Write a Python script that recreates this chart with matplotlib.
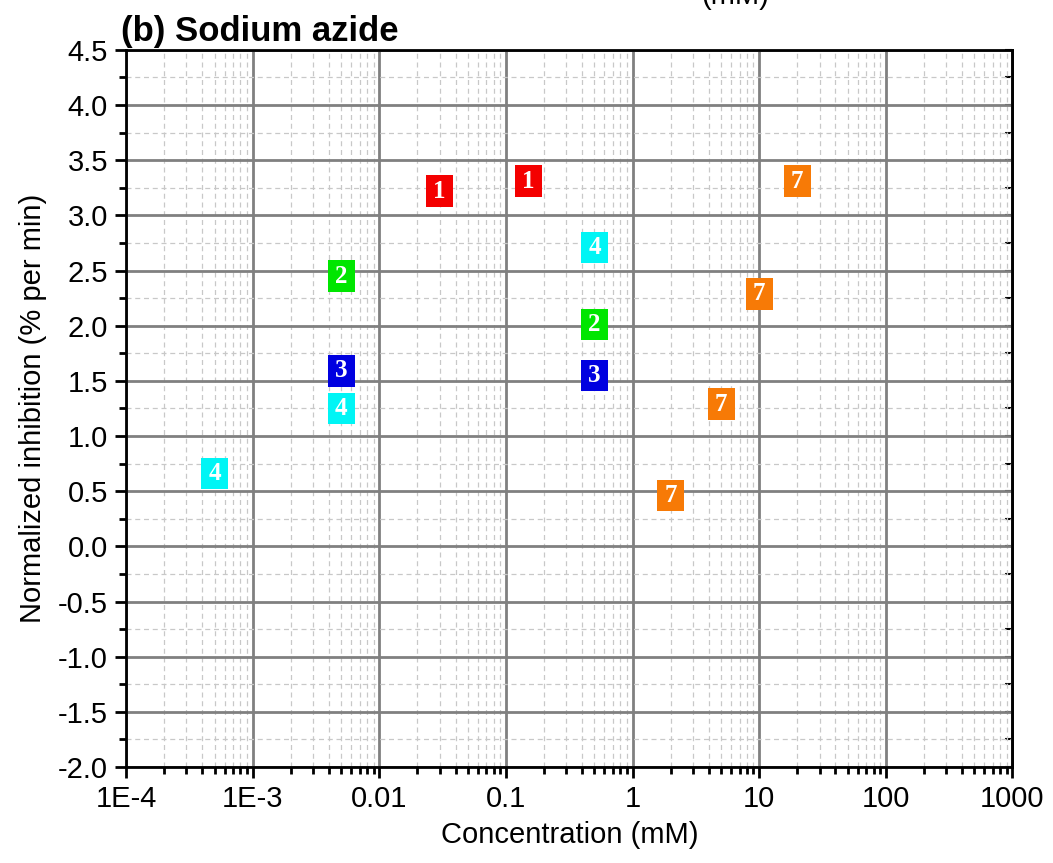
import numpy as np
import matplotlib
matplotlib.use("Agg")
from matplotlib import pyplot as plt
from matplotlib import ticker as ticker

# concentration (mM), normalized inhibition (% per min), point label
conc_1 = [0.03, 0.15]
inhib_1 = [3.22, 3.31]
conc_2 = [0.005, 0.5]
inhib_2 = [2.45, 2.01]
conc_3 = [0.005, 0.5]
inhib_3 = [1.59, 1.55]
conc_4 = [0.0005, 0.005, 0.5]
inhib_4 = [0.66, 1.25, 2.71]
conc_7 = [2, 5, 10, 20]
inhib_7 = [0.46, 1.29, 2.29, 3.31]

groups = [
    ("1", conc_1, inhib_1, "#f40000"),
    ("2", conc_2, inhib_2, "#00e600"),
    ("3", conc_3, inhib_3, "#0000e0"),
    ("4", conc_4, inhib_4, "#00f5f5"),
    ("7", conc_7, inhib_7, "#f77a06"),
]

x_ticks = [1e-4, 1e-3, 0.01, 0.1, 1, 10, 100, 1000]
x_ticklabels = ["1E-4", "1E-3", "0.01", "0.1", "1", "10", "100", "1000"]
y_ticks = np.arange(-2.0, 4.51, 0.5)

plt.rcParams['font.family'] = ['Liberation Sans', 'DejaVu Sans']
plt.rcParams['axes.linewidth'] = 2.0
plt.rcParams['axes.unicode_minus'] = False

fig = plt.figure(figsize=(10.53, 8.63), dpi=100)
ax = fig.add_axes([0.1197, 0.1112, 0.8418, 0.8310])

ax.set_xscale('log')
ax.set_xlim(1e-4, 1000)
ax.set_ylim(-2.0, 4.5)

ax.set_xticks(x_ticks)
ax.set_xticklabels(x_ticklabels)
ax.xaxis.set_minor_locator(ticker.LogLocator(base=10, subs=np.arange(2, 10), numticks=20))
ax.xaxis.set_minor_formatter(ticker.NullFormatter())
ax.set_yticks(y_ticks)
ax.yaxis.set_major_formatter(ticker.StrMethodFormatter('{x:.1f}'))
ax.yaxis.set_minor_locator(ticker.MultipleLocator(0.25))

ax.grid(which='minor', color='#c8c8c8', linestyle=(0, (4, 3)), linewidth=0.9)
ax.grid(which='major', color='#808080', linestyle='-', linewidth=2.0)
ax.set_axisbelow(True)

ax.tick_params(which='major', direction='out', length=8, width=2, labelsize=21, pad=5)
ax.tick_params(which='minor', direction='out', length=5, width=2)

right = ax.secondary_yaxis('right')
right.set_yticks(y_ticks)
right.yaxis.set_minor_locator(ticker.MultipleLocator(0.25))
right.tick_params(which='both', direction='in', length=5, width=1.5, labelright=False)
right.spines['right'].set_linewidth(2.0)

# slightly tall rectangle marker
box = [(-0.85, -1), (0.85, -1), (0.85, 1), (-0.85, 1)]

for label, xs, ys, color in groups:
    ax.scatter(xs, ys, marker=box, s=520, color=color, edgecolors='none', zorder=3)
    for x, y in zip(xs, ys):
        ax.text(x, y, label, color='white', ha='center', va='center', fontsize=18,
                fontweight='bold', family=['Liberation Serif', 'DejaVu Serif'], zorder=4)

ax.set_xlabel('Concentration (mM)', fontsize=21, labelpad=6)
ax.set_ylabel('Normalized inhibition (% per min)', fontsize=21, labelpad=8)
ax.text(-0.006, 1.003, '(b) Sodium azide', transform=ax.transAxes, fontsize=25,
        fontweight='bold', ha='left', va='bottom')

# tail of the label from the panel above, cut by the top edge
fig.text(0.698, 1.005, '(mM)', fontsize=21, ha='center', va='center')

fig.savefig('out.png', dpi=100)
